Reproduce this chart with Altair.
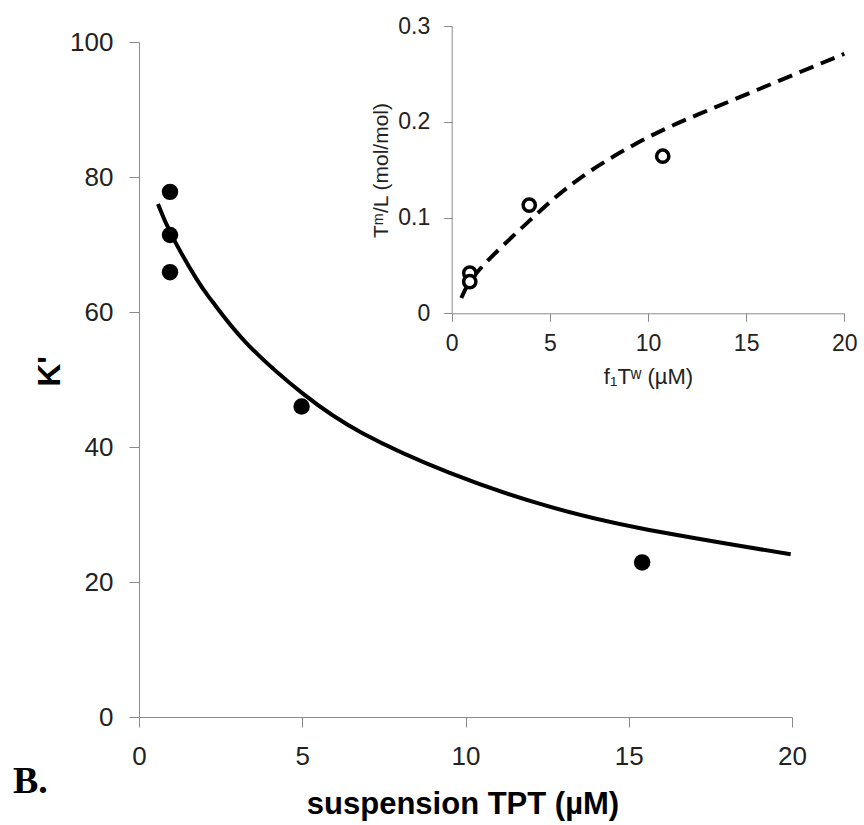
import altair as alt
import pandas as pd

# ---- main panel data ----
main_x = [0.95, 0.95, 0.95, 4.98, 15.41]
main_y = [77.8, 71.4, 65.9, 46.0, 22.9]
fit_x = [0.58, 1.0, 1.76, 2.27, 3.29, 5.02, 6.86, 9.5, 12.26, 15.32, 19.96]
fit_y = [76.0, 71.4, 64.9, 61.4, 55.4, 47.9, 42.0, 36.2, 31.6, 28.0, 24.1]

# ---- inset data ----
inset_x = [0.92, 0.92, 3.95, 10.75]
inset_y = [0.042, 0.033, 0.113, 0.164]
inset_fit_x = [0.49, 1.43, 3.98, 6.53, 9.93, 13.3, 16.7, 20.0]
inset_fit_y = [0.016, 0.046, 0.097, 0.141, 0.183, 0.214, 0.243, 0.271]

panel_label = ["B."]

main_ticks_x = [0, 5, 10, 15, 20]
main_ticks_y = [0, 20, 40, 60, 80, 100]
inset_ticks_x = [0, 5, 10, 15, 20]
inset_ticks_y = [0, 0.1, 0.2, 0.3]

W, H = 653, 675
AX_COL = "#8a8a8a"
LBL_COL = "#222222"
FONT = "Liberation Sans"

df_main = pd.DataFrame({"x": main_x, "y": main_y})
df_fit = pd.DataFrame({"x": fit_x, "y": fit_y})
df_ins = pd.DataFrame({"x": inset_x, "y": inset_y})
df_ins_fit = pd.DataFrame({"x": inset_fit_x, "y": inset_fit_y})
df_lab = pd.DataFrame({"t": panel_label})

main_xscale = alt.Scale(domain=[0, 20], nice=False, zero=False)
main_yscale = alt.Scale(domain=[0, 100], nice=False, zero=False)

main_xaxis = alt.Axis(
    values=main_ticks_x, grid=False, domainColor=AX_COL, tickColor=AX_COL,
    tickSize=10, labelPadding=16, labelFont=FONT, labelFontSize=26,
    labelColor=LBL_COL, labelFlush=False, labelOverlap=False,
    title="suspension TPT (µM)", titleFont=FONT, titleFontSize=31,
    titleFontWeight="bold", titleColor="#000000", titleBaseline="alphabetic",
    titleAlign="center", titleX=W / 2 - 3, titleY=96,
)
main_yaxis = alt.Axis(
    values=main_ticks_y, grid=False, domainColor=AX_COL, tickColor=AX_COL,
    tickSize=10, labelPadding=16, labelFont=FONT, labelFontSize=26,
    labelColor=LBL_COL, labelOverlap=False,
    title="K'", titleFont=FONT, titleFontSize=32, titleFontWeight="bold",
    titleColor="#000000", titleAngle=270, titleBaseline="alphabetic",
    titleAlign="center", titleX=-80, titleY=329,
)

main_line = alt.Chart(df_fit).mark_line(
    color="black", strokeWidth=4, interpolate="natural"
).encode(
    x=alt.X("x:Q", scale=main_xscale, axis=main_xaxis),
    y=alt.Y("y:Q", scale=main_yscale, axis=main_yaxis),
)
main_pts = alt.Chart(df_main).mark_circle(
    color="black", opacity=1, size=270
).encode(
    x=alt.X("x:Q", scale=main_xscale),
    y=alt.Y("y:Q", scale=main_yscale),
)
label = alt.Chart(df_lab).mark_text(
    font="Liberation Serif", fontSize=38, fontWeight="bold", color="black",
    align="left", baseline="alphabetic"
).encode(
    text="t:N", x=alt.value(13 - 139), y=alt.value(793 - 42)
)

main = alt.layer(main_line, main_pts, label)

# inset placed via pixel ranges of its own scales
ins_xscale = alt.Scale(domain=[0, 20], range=[312.7, 705.3], nice=False, zero=False)
ins_yscale = alt.Scale(domain=[0, 0.3], range=[271.3, -16], nice=False, zero=False)

ins_xaxis = alt.Axis(
    orient="bottom", offset=-(H - 271.3), values=inset_ticks_x, grid=False,
    domainColor=AX_COL, tickColor=AX_COL, tickSize=8, labelPadding=11,
    labelFont=FONT, labelFontSize=23, labelColor=LBL_COL, labelFlush=False,
    labelOverlap=False,
    title="f₁Tʷ (µM)", titleFont=FONT, titleFontSize=22, titleFontWeight="normal",
    titleColor=LBL_COL, titleBaseline="alphabetic", titleAlign="center",
    titleX=(312.7 + 705.3) / 2, titleY=70,
)
ins_yaxis = alt.Axis(
    orient="left", offset=-312.7, values=inset_ticks_y, format=".1~f",
    grid=False, domainColor=AX_COL, tickColor=AX_COL, tickSize=8,
    labelPadding=14, labelFont=FONT, labelFontSize=23, labelColor=LBL_COL,
    labelOverlap=False,
    title="Tᵐ/L (mol/mol)", titleFont=FONT, titleFontSize=21,
    titleFontWeight="normal", titleColor=LBL_COL, titleAngle=270,
    titleBaseline="alphabetic", titleAlign="center", titleX=-64, titleY=128,
)

ins_line = alt.Chart(df_ins_fit).mark_line(
    color="black", strokeWidth=4, strokeDash=[15, 8], interpolate="natural"
).encode(
    x=alt.X("x:Q", scale=ins_xscale, axis=ins_xaxis),
    y=alt.Y("y:Q", scale=ins_yscale, axis=ins_yaxis),
)
ins_pts = alt.Chart(df_ins).mark_point(
    shape="circle", color="black", filled=False, strokeWidth=3.5, size=150,
    opacity=1, fill="white", fillOpacity=1
).encode(
    x=alt.X("x:Q", scale=ins_xscale),
    y=alt.Y("y:Q", scale=ins_yscale),
)
inset = alt.layer(ins_line, ins_pts)

chart = alt.layer(main, inset).resolve_scale(
    x="independent", y="independent"
).properties(
    width=W, height=H,
    autosize=alt.AutoSizeParams(type="none"),
    padding={"left": 139, "top": 42, "right": 72, "bottom": 108},
    background="white",
).configure_view(stroke=None)

chart.save("out.html", embed_options={"renderer": "svg", "actions": False})
